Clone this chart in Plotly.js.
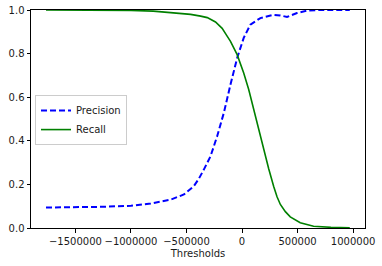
<!DOCTYPE html>
<html>
<head>
<meta charset="utf-8">
<script src="https://cdn.plot.ly/plotly-3.0.1.min.js"></script>
<style>html,body{margin:0;padding:0;background:#fff;}#chart{width:382px;height:266px;}</style>
</head>
<body>
<div id="chart"></div>
<script>
const precisionThresholds = [-1765000, -1500000, -1270000, -1000000, -822000, -643000, -523000, -434000, -390000, -344000, -284000, -224000, -179000, -164000, -104000, -44000, 15000, 75000, 165000, 285000, 345000, 405000, 495000, 584000, 704000, 970000];
const precisionValues = [0.094, 0.095, 0.097, 0.102, 0.112, 0.13, 0.154, 0.192, 0.225, 0.268, 0.329, 0.421, 0.497, 0.528, 0.658, 0.78, 0.872, 0.933, 0.963, 0.978, 0.975, 0.968, 0.986, 0.997, 1.0, 1.0];

const recallThresholds = [-1765000, -1500000, -1200000, -1000000, -800000, -680000, -553000, -463000, -373000, -313000, -239000, -179000, -140000, -104000, -44000, 15000, 60000, 105000, 150000, 195000, 240000, 285000, 315000, 345000, 390000, 434000, 524000, 644000, 800000, 970000];
const recallValues = [1.0, 1.0, 0.999, 0.998, 0.995, 0.99, 0.985, 0.98, 0.972, 0.965, 0.945, 0.916, 0.885, 0.856, 0.795, 0.711, 0.635, 0.543, 0.451, 0.36, 0.272, 0.19, 0.143, 0.108, 0.075, 0.051, 0.024, 0.008, 0.003, 0.001];

const xTickVals = [-1500000, -1000000, -500000, 0, 500000, 1000000];
const xTickText = ['\u22121500000', '\u22121000000', '\u2212500000', '0', '500000', '1000000'];
const yTickVals = [0, 0.2, 0.4, 0.6, 0.8, 1.0];
const yTickText = ['0.0', '0.2', '0.4', '0.6', '0.8', '1.0'];

const font = {family: 'DejaVu Sans, sans-serif', size: 10, color: '#1a1a1a'};

const traces = [
  {x: precisionThresholds, y: precisionValues, type: 'scatter', mode: 'lines', name: 'Precision',
   line: {color: '#0000ff', width: 2, dash: '6px,3px'}},
  {x: recallThresholds, y: recallValues, type: 'scatter', mode: 'lines', name: 'Recall',
   line: {color: '#008000', width: 1.6}}
];

const axisCommon = {
  showline: true, linecolor: '#000', linewidth: 1, mirror: true,
  ticks: 'outside', ticklen: 3.5, tickwidth: 1, tickcolor: '#000',
  showgrid: false, zeroline: false, tickfont: font, tickmode: 'array'
};

const layout = {
  width: 382, height: 266,
  margin: {l: 31, r: 17, t: 10, b: 38},
  paper_bgcolor: '#fff', plot_bgcolor: '#fff',
  font: font,
  showlegend: true,
  legend: {x: 0.012, y: 0.495, xanchor: 'left', yanchor: 'middle',
           bordercolor: '#ccc', borderwidth: 1, bgcolor: 'rgba(255,255,255,0.8)',
           font: font, tracegroupgap: 0, itemwidth: 30},
  xaxis: Object.assign({}, axisCommon, {
    range: [-1900000, 1107000], tickvals: xTickVals, ticktext: xTickText,
    title: {text: 'Thresholds', font: font, standoff: 4}
  }),
  yaxis: Object.assign({}, axisCommon, {
    range: [0, 1], tickvals: yTickVals, ticktext: yTickText
  })
};

Plotly.newPlot('chart', traces, layout, {displayModeBar: false, staticPlot: true});
</script>
</body>
</html>
